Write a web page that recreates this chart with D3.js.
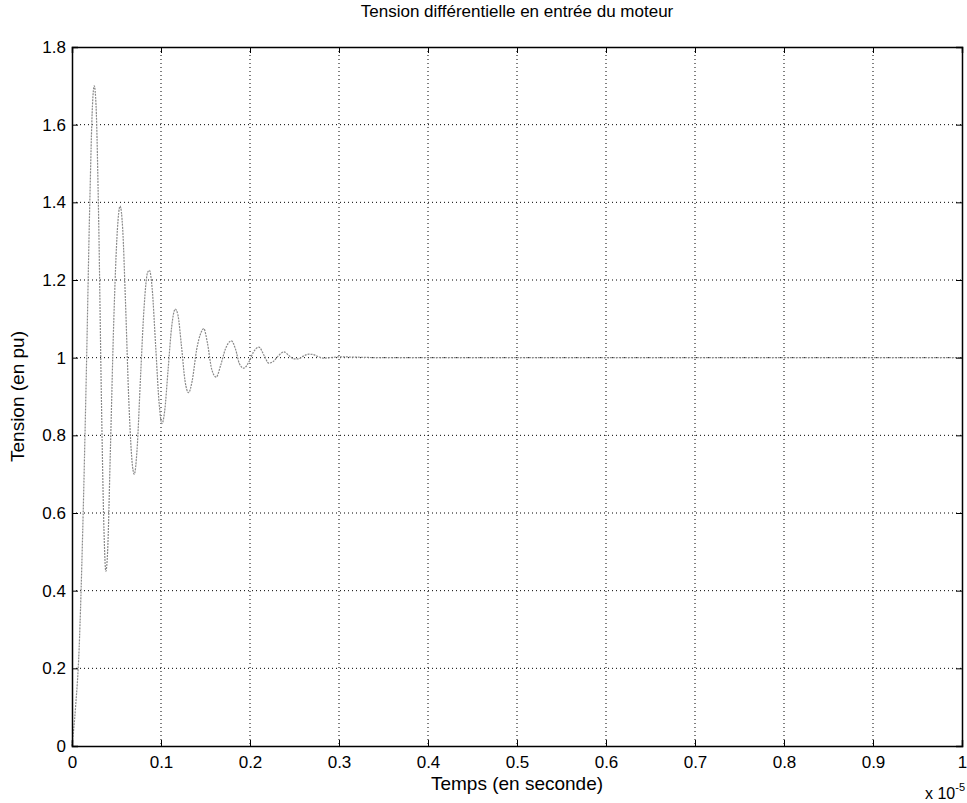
<!DOCTYPE html>
<html>
<head>
	<meta charset="utf-8">
	<title>Tension différentielle</title>
	<script src="https://cdn.jsdelivr.net/npm/d3@7"></script>
	<style>
		body { margin: 0; background: #fff; }
		text { font-family: "Liberation Sans", Arial, sans-serif; fill: #000; }
		.grid line { stroke: #000; stroke-dasharray: 1,3; stroke-width: 1; }
	</style>
</head>
<body>
<div id="chart"></div>
<script>
	// time (x 1e-5 s) and voltage (pu)
	var temps = [0, 0.004, 0.008, 0.012, 0.016, 0.020, 0.023, 0.025, 0.027, 0.030, 0.033, 0.036, 0.038, 0.040,
		0.043, 0.047, 0.051, 0.054, 0.057, 0.060, 0.064, 0.068, 0.070, 0.073, 0.077, 0.081, 0.085, 0.087,
		0.090, 0.094, 0.098, 0.101, 0.104, 0.108, 0.112, 0.116, 0.119, 0.123, 0.127, 0.131, 0.135, 0.140,
		0.145, 0.148, 0.152, 0.157, 0.162, 0.167, 0.172, 0.179, 0.184, 0.188, 0.193, 0.199, 0.204, 0.210,
		0.216, 0.221, 0.226, 0.232, 0.238, 0.244, 0.249, 0.254, 0.260, 0.266, 0.271, 0.277, 0.283, 0.290,
		0.300, 0.35, 0.5, 0.75, 1.0];
	var tension = [0, 0.1, 0.25, 0.55, 0.95, 1.4, 1.65, 1.70, 1.65, 1.35, 0.9, 0.55, 0.45, 0.5,
		0.75, 1.1, 1.33, 1.39, 1.33, 1.15, 0.88, 0.72, 0.70, 0.76, 0.95, 1.13, 1.22, 1.225,
		1.18, 1.03, 0.88, 0.83, 0.86, 0.97, 1.08, 1.125, 1.11, 1.03, 0.94, 0.91, 0.94, 1.02,
		1.065, 1.075, 1.04, 0.97, 0.95, 0.98, 1.02, 1.043, 1.02, 0.985, 0.973, 0.99, 1.015, 1.027,
		1.005, 0.986, 0.99, 1.005, 1.015, 1.005, 0.997, 0.997, 1.004, 1.009, 1.008, 1.002, 0.999, 1.0,
		1.002, 1.0, 1.0, 1.0, 1.0];
	var xTicks = [0, 0.1, 0.2, 0.3, 0.4, 0.5, 0.6, 0.7, 0.8, 0.9, 1];
	var yTicks = [0, 0.2, 0.4, 0.6, 0.8, 1, 1.2, 1.4, 1.6, 1.8];

	var width = 967, height = 803;
	var margin = {top: 47, right: 5, bottom: 57, left: 72};
	var w = width - margin.left - margin.right,
		h = height - margin.top - margin.bottom;

	var svg = d3.select("#chart").append("svg")
		.attr("width", width)
		.attr("height", height);

	var g = svg.append("g")
		.attr("transform", "translate(" + margin.left + "," + margin.top + ")");

	var x = d3.scaleLinear().domain([0, 1]).range([0, w]);
	var y = d3.scaleLinear().domain([0, 1.8]).range([h, 0]);

	// dotted grid
	g.append("g").attr("class", "grid")
		.selectAll("line").data(xTicks.slice(1, -1)).enter().append("line")
		.attr("x1", d => x(d)).attr("x2", d => x(d))
		.attr("y1", 0).attr("y2", h);
	g.append("g").attr("class", "grid")
		.selectAll("line").data(yTicks.slice(1, -1)).enter().append("line")
		.attr("y1", d => y(d)).attr("y2", d => y(d))
		.attr("x1", 0).attr("x2", w);

	// the signal
	var line = d3.line()
		.x((d, i) => x(temps[i]))
		.y(d => y(d))
		.curve(d3.curveMonotoneX);
	g.append("path")
		.datum(tension)
		.attr("d", line)
		.attr("fill", "none")
		.attr("stroke", "#8a8a8a")
		.attr("stroke-width", 1.2)
		.attr("stroke-dasharray", "2,1");

	// axes with inward ticks, matlab style box
	var fmt = d => d3.format("")(+d.toFixed(1));
	var xAxis = g.append("g").attr("transform", "translate(0," + h + ")")
		.call(d3.axisBottom(x).tickValues(xTicks).tickSize(-6).tickPadding(10).tickFormat(fmt));
	var yAxis = g.append("g")
		.call(d3.axisLeft(y).tickValues(yTicks).tickSize(-6).tickPadding(6).tickFormat(fmt));
	g.append("g").call(d3.axisTop(x).tickValues(xTicks).tickSize(-6).tickFormat(""));
	g.append("g").attr("transform", "translate(" + w + ",0)")
		.call(d3.axisRight(y).tickValues(yTicks).tickSize(-6).tickFormat(""));

	g.selectAll(".domain").attr("stroke", "#000").attr("stroke-width", 1.5);
	g.selectAll(".tick line").attr("stroke", "#000");
	xAxis.selectAll("text").style("font-size", "17px");
	yAxis.selectAll("text").style("font-size", "17px");

	// titles
	svg.append("text")
		.attr("x", margin.left + w / 2).attr("y", 17)
		.attr("text-anchor", "middle")
		.style("font-size", "17px")
		.text("Tension différentielle en entrée du moteur");
	svg.append("text")
		.attr("x", margin.left + w / 2).attr("y", 790)
		.attr("text-anchor", "middle")
		.style("font-size", "19px")
		.text("Temps (en seconde)");
	svg.append("text")
		.attr("transform", "translate(24," + (margin.top + h / 2) + ") rotate(-90)")
		.attr("text-anchor", "middle")
		.style("font-size", "19px")
		.text("Tension (en pu)");
	var mult = svg.append("text")
		.attr("x", 925).attr("y", 799)
		.style("font-size", "16px");
	mult.append("tspan").text("x 10");
	mult.append("tspan").attr("dy", -8).style("font-size", "11px").text("-5");
</script>
</body>
</html>
